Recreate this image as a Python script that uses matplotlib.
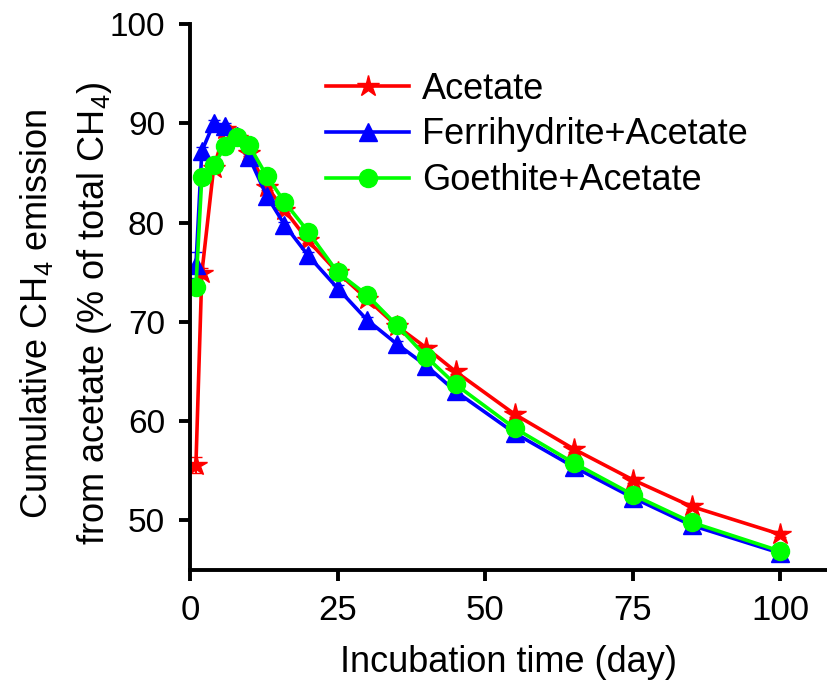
import matplotlib
matplotlib.use("Agg")
import matplotlib.pyplot as plt

plt.rcParams['font.family'] = ['Liberation Sans', 'DejaVu Sans']
plt.rcParams['mathtext.default'] = 'regular'

# incubation days
days = [1, 2, 4, 6, 8, 10, 13, 16, 20, 25, 30, 35, 40, 45, 55, 65, 75, 85, 100]

acetate = [55.6, 74.9, 85.5, 89.4, 88.5, 87.0, 83.6, 81.3, 78.2, 75.0, 72.3, 69.6,
           67.4, 65.0, 60.7, 57.2, 54.1, 51.4, 48.6]
acetate_err = [0.8, 0.5, 0.4, 0.4, 0.3, 0.3, 0.3, 0.3, 0.3, 0.3, 0.3, 0.3,
               0.3, 0.3, 0.3, 0.3, 0.3, 0.3, 0.3]

ferri = [75.7, 87.2, 90.0, 89.7, 88.7, 86.6, 82.7, 79.8, 76.7, 73.4, 70.2, 67.8,
         65.6, 63.0, 58.8, 55.4, 52.3, 49.5, 46.7]
ferri_err = [1.3, 0.4, 0.3, 0.3, 0.4, 0.3, 0.3, 0.3, 0.3, 0.3, 0.3, 0.3,
             0.3, 0.3, 0.3, 0.3, 0.3, 0.3, 0.3]

goethite = [73.5, 84.6, 85.8, 87.7, 88.6, 87.8, 84.7, 82.1, 79.1, 75.0, 72.7, 69.7,
            66.5, 63.7, 59.3, 55.8, 52.6, 49.8, 46.9]
goethite_err = [0.5, 0.4, 0.3, 0.3, 0.4, 0.3, 0.3, 0.3, 0.3, 0.3, 0.3, 0.3,
                0.3, 0.3, 0.3, 0.3, 0.3, 0.3, 0.3]

fig = plt.figure(figsize=(8.28, 6.84), dpi=100)
ax = fig.add_axes([0.2295, 0.1667, 0.7696, 0.798])

ax.errorbar(days, acetate, yerr=acetate_err, color='#ff0000', marker='*',
            markersize=16, linewidth=2.6, capsize=4, elinewidth=1.5, label='Acetate')
ax.errorbar(days, ferri, yerr=ferri_err, color='#0000ff', marker='^',
            markersize=13, linewidth=2.6, capsize=4, elinewidth=1.5,
            label='Ferrihydrite+Acetate')
ax.errorbar(days, goethite, yerr=goethite_err, color='#00ff00', marker='o',
            markersize=13, linewidth=2.6, capsize=4, elinewidth=1.5,
            label='Goethite+Acetate')

ax.set_xlim(0, 108)
ax.set_ylim(45, 100)
ax.set_xticks([0, 25, 50, 75, 100])
ax.set_yticks([50, 60, 70, 80, 90, 100])

for s in ['top', 'right']:
    ax.spines[s].set_visible(False)
for s in ['left', 'bottom']:
    ax.spines[s].set_linewidth(2.8)
ax.tick_params(direction='out', length=8, width=2.8)
ax.tick_params(axis='y', labelsize=24, pad=10)
ax.tick_params(axis='x', labelsize=25, pad=9)

ax.set_xlabel('Incubation time (day)', fontsize=26, labelpad=13)
ax.set_ylabel('Cumulative CH$_4$ emission\nfrom acetate (% of total CH$_4$)',
              fontsize=26, linespacing=1.7)
ax.yaxis.set_label_coords(-0.119, 0.47)

# legend without errorbar glyphs in the handles
handles, labels = ax.get_legend_handles_labels()
handles = [h[0] for h in handles]
ax.legend(handles, labels, loc='upper left', bbox_to_anchor=(0.2135, 0.913),
          frameon=False, fontsize=26, handlelength=2.3, labelspacing=0.3,
          handletextpad=0.35, borderpad=0, borderaxespad=0)

fig.savefig('out.png', dpi=100)
